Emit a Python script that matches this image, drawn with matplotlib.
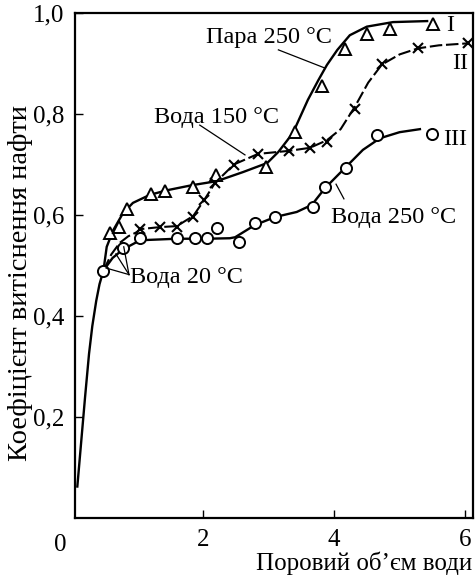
import matplotlib
matplotlib.use("Agg")
import matplotlib.pyplot as plt

plt.rcParams['font.family'] = ['Liberation Serif', 'DejaVu Serif']

# ---- data ----
# common initial part of all curves
start_x = [0.08, 0.20, 0.26, 0.31, 0.37, 0.42, 0.48]
start_y = [0.06, 0.24, 0.325, 0.38, 0.43, 0.463, 0.49]

# I : steam 250 C (triangles)
I_x = [0.58, 0.72, 0.84, 1.21, 1.42, 1.85, 2.20, 2.96, 3.40, 3.82, 4.17, 4.50, 4.85, 5.51]
I_y = [0.564, 0.576, 0.612, 0.641, 0.648, 0.655, 0.679, 0.695, 0.764, 0.855, 0.929, 0.958, 0.968, 0.978]
I_curve_x = [0.48, 0.53, 0.63, 0.78, 0.93, 1.19, 1.45, 1.83, 2.21, 2.61, 2.98, 3.15, 3.37,
             3.60, 3.76, 3.89, 4.05, 4.24, 4.50, 4.90, 5.42]
I_curve_y = [0.49, 0.537, 0.570, 0.604, 0.624, 0.640, 0.649, 0.659, 0.667, 0.685, 0.703, 0.725, 0.762,
             0.828, 0.867, 0.897, 0.927, 0.956, 0.973, 0.982, 0.984]

# II : water 150 C (crosses)
II_x = [1.04, 1.34, 1.60, 1.85, 2.02, 2.18, 2.47, 2.84, 3.31, 3.63, 3.89, 4.32, 4.73, 5.28, 6.05]
II_y = [0.572, 0.576, 0.576, 0.596, 0.630, 0.663, 0.700, 0.721, 0.727, 0.733, 0.745, 0.810, 0.900, 0.930, 0.940]
II_curve_x = [0.48, 0.60, 0.73, 0.86, 0.99, 1.04, 1.34, 1.60, 1.85, 2.02, 2.18, 2.47, 2.84, 3.31, 3.63,
              3.89, 4.10, 4.32, 4.52, 4.73, 5.00, 5.28, 5.60, 6.05]
II_curve_y = [0.49, 0.522, 0.545, 0.558, 0.566, 0.572, 0.576, 0.578, 0.598, 0.630, 0.663, 0.700, 0.721, 0.727, 0.733,
              0.748, 0.770, 0.815, 0.862, 0.898, 0.918, 0.930, 0.936, 0.940]

# III : water 250 C (circles)
III_x = [0.48, 0.78, 1.04, 1.60, 1.88, 2.06, 2.21, 2.55, 2.79, 3.10, 3.68, 3.86, 4.18, 4.66, 5.50]
III_y = [0.489, 0.535, 0.554, 0.555, 0.555, 0.554, 0.574, 0.546, 0.584, 0.596, 0.616, 0.655, 0.693, 0.758, 0.760]
III_curve_x = [0.48, 0.62, 0.78, 1.04, 1.60, 2.06, 2.41, 2.49, 2.79, 3.10, 3.43, 3.66, 3.86, 4.18,
               4.44, 4.70, 5.00, 5.31]
III_curve_y = [0.49, 0.515, 0.532, 0.550, 0.553, 0.553, 0.554, 0.556, 0.580, 0.596, 0.606, 0.620, 0.653, 0.695,
               0.729, 0.752, 0.764, 0.770]

x_ticks = [2, 4, 6]
x_ticklabels = ['2', '4', '6']
y_ticks = [0.2, 0.4, 0.6, 0.8, 1.0]
y_ticklabels = ['0,2', '0,4', '0,6', '0,8', '1,0']

# ---- figure ----
fig = plt.figure(figsize=(4.76, 5.80), dpi=100)
ax = fig.add_axes([75 / 476, 1 - 518 / 580, 398 / 476, 505 / 580])
ax.set_xlim(0.046, 6.12)
ax.set_ylim(0.0, 1.0)

lw = 1.7
ax.plot(start_x, start_y, color='black', lw=lw, solid_capstyle='butt')
ax.plot(I_curve_x, I_curve_y, color='black', lw=lw)
ax.plot(II_curve_x, II_curve_y, color='black', lw=1.5, linestyle=(0, (6, 1.8)))
ax.plot(III_curve_x, III_curve_y, color='black', lw=lw)

ax.plot(I_x, I_y, linestyle='none', marker='^', ms=9, mfc='white', mec='black', mew=1.4)
ax.plot(II_x, II_y, linestyle='none', marker='x', ms=7.5, mec='black', mew=1.5)
ax.plot(III_x, III_y, linestyle='none', marker='o', ms=8, mfc='white', mec='black', mew=1.4)

fs_ann = 17.5
ax.text(2.04, 0.952, 'Пара 250 °C', fontsize=fs_ann, ha='left', va='center')
ax.plot([3.15, 3.86], [0.927, 0.891], color='black', lw=0.9)
ax.text(1.25, 0.794, 'Вода 150 °C', fontsize=fs_ann, ha='left', va='center')
ax.plot([1.95, 2.64], [0.778, 0.719], color='black', lw=0.9)
ax.text(3.96, 0.596, 'Вода 250 °C', fontsize=fs_ann, ha='left', va='center')
ax.plot([4.15, 4.03], [0.632, 0.661], color='black', lw=0.9)
ax.text(0.88, 0.477, 'Вода 20 °C', fontsize=fs_ann, ha='left', va='center')
for tx, ty in [(0.52, 0.495), (0.67, 0.523), (0.79, 0.537)]:
    ax.plot([0.87, tx], [0.482, ty], color='black', lw=0.9)

ax.text(5.77, 0.976, 'I', fontsize=fs_ann, ha='center', va='center')
ax.text(5.92, 0.900, 'II', fontsize=fs_ann, ha='center', va='center')
ax.text(5.85, 0.749, 'III', fontsize=fs_ann, ha='center', va='center')

ax.set_xticks(x_ticks)
ax.set_xticklabels(x_ticklabels)
ax.set_yticks(y_ticks)
ax.set_yticklabels(y_ticklabels)
ax.tick_params(direction='in', length=6, width=1.0, labelsize=18, pad=8)
ax.tick_params(axis='x', pad=8)
for s in ax.spines.values():
    s.set_linewidth(1.6)

fig.text(60 / 476, 1 - 545 / 580, '0', fontsize=18, ha='center', va='center')
fig.text(21 / 476, 1 - 283 / 580, 'Коефіцієнт витіснення нафти', fontsize=20.5,
         rotation=90, ha='center', va='center')
fig.text(472 / 476, 1 - 563 / 580, 'Поровий об’єм води', fontsize=18, ha='right', va='center')

fig.savefig('out.png', dpi=100)
